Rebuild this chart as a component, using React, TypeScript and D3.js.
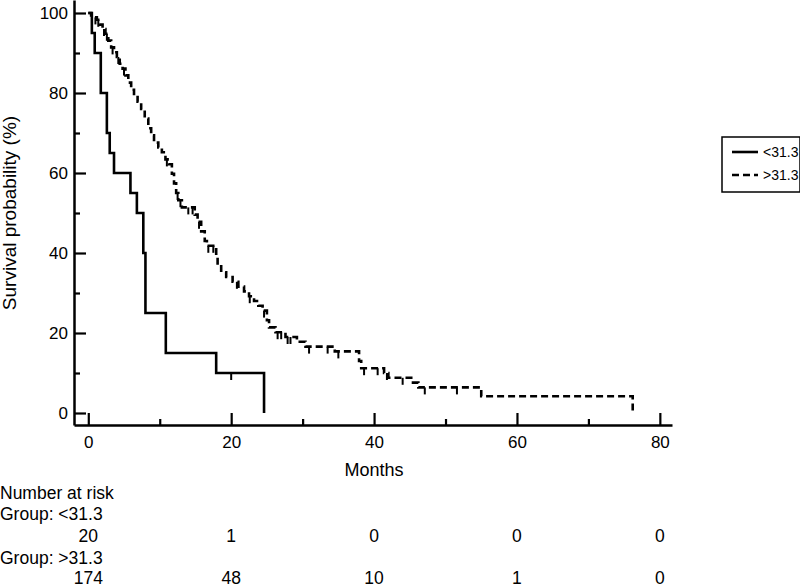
import React, { useEffect, useRef } from 'react';
import * as d3 from 'd3';

// Kaplan-Meier steps for group <31.3 (months, survival % after the drop)
const ltTimes = [0, 0.5, 0.9, 1.75, 2.6, 3.0, 3.6, 5.9, 6.8, 7.7, 8.0, 10.85, 17.9, 24.6];
const ltSurv = [100, 95, 90, 80, 70, 65, 60, 55, 50, 40, 25, 15, 10, 0];
const ltCensor = [20.0];

// Kaplan-Meier steps for group >31.3
const gtTimes = [
  0, 0.4, 0.8, 1.2, 1.6, 2.0, 2.4, 2.8, 3.2, 3.6, 4.0, 4.4, 4.8, 5.2, 5.6, 6.0, 6.4, 6.9, 7.4, 7.9,
  8.4, 8.8, 9.2, 9.8, 10.3, 10.8, 11.3, 11.7, 12.0, 12.3, 12.6, 13.1, 14.9, 15.3, 15.8, 16.3, 16.6,
  17.9, 18.1, 18.6, 19.3, 20.2, 21.0, 21.8, 22.5, 23.2, 23.8, 24.4, 25.0, 25.3, 26.2, 27.6, 29.2,
  30.4, 34.5, 37.9, 38.2, 41.4, 42.0, 45.2, 46.2, 55.0, 76.2,
];
const gtSurv = [
  100, 99.4, 98.9, 98.3, 97.1, 96.0, 94.8, 93.1, 91.4, 90.2, 89.0, 87.3, 86.1, 84.4, 82.6, 80.8, 79.0,
  77.8, 76.0, 73.6, 71.2, 69.4, 67.6, 66.4, 65.2, 63.4, 62.2, 59.8, 57.4, 55.0, 53.2, 51.4, 49.6, 47.8,
  45.4, 43.0, 41.8, 39.4, 37.0, 35.2, 34.0, 32.8, 31.6, 30.4, 29.2, 28.0, 26.8, 25.6, 23.2, 21.4, 20.2,
  19.0, 17.8, 16.6, 15.4, 13.0, 11.2, 10.0, 8.8, 7.6, 6.4, 4.2, 0,
];
const gtCensor = [
  1.0, 1.4, 2.2, 2.6, 3.4, 4.2, 5.0, 11.0, 12.5, 12.9, 14.0, 14.6, 15.5, 16.8, 17.5, 20.8, 22.6,
  24.6, 26.5, 27.0, 27.9, 28.3, 30.9, 33.5, 35.0, 38.6, 40.5, 41.8, 44.0, 47.1, 51.6,
];

// Number at risk table
const riskTimes = [0, 20, 40, 60, 80];
const riskLt = [20, 1, 0, 0, 0];
const riskGt = [174, 48, 10, 1, 0];

const groupLabels = ['<31.3', '>31.3'];

const FONT = 'Arial, "Liberation Sans", sans-serif';

const App = () => {
  const ref = useRef<SVGSVGElement>(null);

  useEffect(() => {
    const svg = d3.select(ref.current);
    svg.selectAll('*').remove();

    // Scales
    const x = d3.scaleLinear().domain([-2, 81.7]).range([74, 672]);
    const y = d3.scaleLinear().domain([-3, 103.25]).range([425, 0]);

    // Minor ticks first, then major ones with labels (all pointing inward)
    svg
      .append('g')
      .attr('transform', 'translate(74,0)')
      .call(d3.axisLeft(y).tickValues([10, 30, 50, 70, 90]).tickSizeInner(-6).tickSizeOuter(0).tickFormat(() => ''))
      .call((g) => g.select('.domain').remove());
    svg
      .append('g')
      .attr('transform', 'translate(0,425)')
      .call(d3.axisBottom(x).tickValues([10, 30, 50, 70]).tickSizeInner(-6).tickSizeOuter(0).tickFormat(() => ''))
      .call((g) => g.select('.domain').remove());

    const yAxis = svg
      .append('g')
      .attr('transform', 'translate(74,0)')
      .call(d3.axisLeft(y).tickValues([0, 20, 40, 60, 80, 100]).tickSizeInner(-12).tickSizeOuter(0).tickPadding(6));
    const xAxis = svg
      .append('g')
      .attr('transform', 'translate(0,425)')
      .call(d3.axisBottom(x).tickValues(riskTimes).tickSizeInner(-12).tickSizeOuter(0).tickPadding(11));

    [yAxis, xAxis].forEach((a) => {
      a.selectAll('text').style('font-family', FONT).style('font-size', '17px').attr('fill', '#000');
    });
    svg.selectAll('.domain').attr('stroke', '#000').attr('stroke-width', 2.5);
    svg.selectAll('.tick line').attr('stroke', '#000').attr('stroke-width', 2.2);

    // Axis titles
    svg
      .append('text')
      .attr('transform', `translate(16,${y(50)}) rotate(-90)`)
      .attr('text-anchor', 'middle')
      .style('font-family', FONT)
      .style('font-size', '19px')
      .text('Survival probability (%)');
    svg
      .append('text')
      .attr('x', x(40))
      .attr('y', 476)
      .attr('text-anchor', 'middle')
      .style('font-family', FONT)
      .style('font-size', '18px')
      .text('Months');

    // Survival curves
    const line = d3
      .line<[number, number]>()
      .x((d) => x(d[0]))
      .y((d) => y(d[1]))
      .curve(d3.curveStepAfter);

    const groups = [
      { times: ltTimes, surv: ltSurv, censor: ltCensor, dash: null },
      { times: gtTimes, surv: gtSurv, censor: gtCensor, dash: '7,4' },
    ];

    groups.forEach((grp) => {
      const pts = grp.times.map((t, i) => [t, grp.surv[i]] as [number, number]);
      svg
        .append('path')
        .attr('d', line(pts))
        .attr('fill', 'none')
        .attr('stroke', '#000')
        .attr('stroke-width', 2.6)
        .attr('stroke-dasharray', grp.dash);

      // Censor marks hang below the curve
      const survAt = (t: number) => grp.surv[d3.bisectRight(grp.times, t) - 1];
      svg
        .append('g')
        .selectAll('line')
        .data(grp.censor)
        .enter()
        .append('line')
        .attr('x1', (d) => x(d))
        .attr('x2', (d) => x(d))
        .attr('y1', (d) => y(survAt(d)))
        .attr('y2', (d) => y(survAt(d)) + 7)
        .attr('stroke', '#000')
        .attr('stroke-width', 2);
    });

    // Legend at the right edge
    const legend = svg.append('g').attr('transform', 'translate(722,137)');
    legend
      .append('rect')
      .attr('width', 78)
      .attr('height', 55)
      .attr('fill', '#fff')
      .attr('stroke', '#000')
      .attr('stroke-width', 1.5);
    groupLabels.forEach((lab, i) => {
      legend
        .append('line')
        .attr('x1', 10)
        .attr('x2', 36)
        .attr('y1', 15 + i * 23)
        .attr('y2', 15 + i * 23)
        .attr('stroke', '#000')
        .attr('stroke-width', 2.6)
        .attr('stroke-dasharray', i === 1 ? '7,4' : null);
      legend
        .append('text')
        .attr('x', 41)
        .attr('y', 15 + i * 23)
        .attr('dy', '0.35em')
        .style('font-family', FONT)
        .style('font-size', '14px')
        .text(lab);
    });

    // Number at risk table
    const rows = [
      { label: 'Number at risk', y: 499 },
      { label: 'Group: <31.3', y: 520 },
      { label: 'Group: >31.3', y: 564 },
    ];
    rows.forEach((r) => {
      svg
        .append('text')
        .attr('x', 0)
        .attr('y', r.y)
        .style('font-family', FONT)
        .style('font-size', '17.5px')
        .text(r.label);
    });
    [
      { vals: riskLt, y: 542 },
      { vals: riskGt, y: 584 },
    ].forEach((r) => {
      svg
        .append('g')
        .selectAll('text')
        .data(r.vals)
        .enter()
        .append('text')
        .attr('x', (_, i) => x(riskTimes[i]))
        .attr('y', r.y)
        .attr('text-anchor', 'middle')
        .style('font-family', FONT)
        .style('font-size', '17.5px')
        .text((d) => d);
    });
  }, []);

  return (
    <svg
      ref={ref}
      width={800}
      height={587}
      style={{ position: 'absolute', left: 0, top: 0, background: '#fff' }}
    ></svg>
  );
};

export default App;
